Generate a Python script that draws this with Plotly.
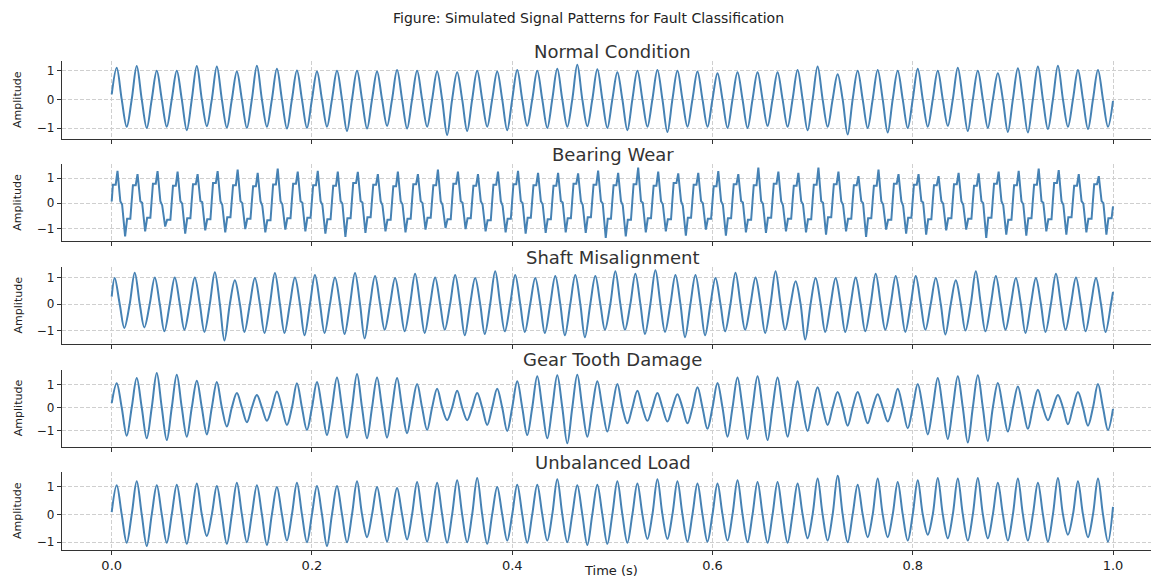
import plotly.graph_objects as go

# ---------------- data ----------------
period = 0.02          # one cycle of the 50 Hz signal, seconds
n_cycles = 50
time_ticks = [0.0, 0.2, 0.4, 0.6, 0.8, 1.0]
time_tick_labels = ["0.0", "0.2", "0.4", "0.6", "0.8", "1.0"]
amp_ticks = [-1, 0, 1]
amp_tick_labels = ["\u22121", "0", "1"]

panel_titles = ["Normal Condition", "Bearing Wear", "Shaft Misalignment",
                "Gear Tooth Damage", "Unbalanced Load"]

# Normal condition: per-cycle peak / trough
nc_start, nc_end = 0.17, -0.05
nc_peak = [1.10, 1.16, 0.99, 0.99, 1.16, 1.14, 0.97, 1.17, 1.06, 1.00,
           0.97, 0.99, 0.99, 0.97, 1.02, 0.99, 0.97, 0.94, 0.99, 0.97,
           1.02, 0.99, 1.06, 1.20, 1.05, 0.94, 0.99, 1.02, 0.99, 0.97,
           0.91, 0.94, 0.94, 0.94, 1.02, 1.14, 0.87, 0.99, 1.02, 0.99,
           1.06, 0.99, 1.10, 0.99, 0.91, 1.08, 1.14, 1.17, 1.02, 1.02]
nc_trough = [-0.95, -0.99, -0.95, -1.07, -0.93, -0.98, -0.99, -0.95, -1.01, -0.99,
             -0.95, -1.10, -1.01, -0.92, -1.01, -0.95, -1.24, -1.10, -0.95, -1.07,
             -0.92, -0.99, -0.95, -0.93, -0.99, -1.07, -0.95, -1.13, -0.95, -0.95,
             -0.99, -0.99, -0.92, -0.95, -1.07, -0.95, -1.22, -0.99, -1.15, -0.99,
             -0.95, -0.92, -1.10, -0.99, -1.13, -1.15, -1.03, -0.95, -1.03, -0.95]

# Bearing wear: plateau, spike, shoulder, trough, low plateau per cycle
bw_start, bw_end = 0.07, -0.13
bw_spike = [1.29, 1.16, 1.28, 1.26, 1.16, 1.28, 1.34, 1.21, 1.38, 1.26,
            1.29, 1.26, 1.25, 1.16, 1.26, 1.16, 1.34, 1.26, 1.16, 1.26,
            1.29, 1.21, 1.21, 1.19, 1.30, 1.21, 1.42, 1.26, 1.19, 1.21,
            1.28, 1.16, 1.42, 1.26, 1.21, 1.42, 1.26, 1.08, 1.34, 1.16,
            1.16, 1.08, 1.21, 1.19, 1.26, 1.29, 1.38, 1.32, 1.16, 1.08]
bw_trough = [-1.32, -1.12, -0.93, -1.21, -1.08, -1.16, -1.03, -1.16, -1.05, -1.12,
             -1.21, -1.34, -1.18, -1.12, -1.16, -1.05, -0.99, -1.03, -1.12, -1.16,
             -1.21, -1.18, -1.16, -1.18, -1.38, -1.32, -1.16, -1.12, -1.29, -1.05,
             -1.29, -1.16, -1.18, -1.12, -1.16, -1.25, -1.12, -1.34, -1.05, -1.21,
             -1.25, -1.08, -1.05, -1.38, -1.25, -1.29, -1.12, -1.25, -1.16, -1.25]
bw_plateau_hi = [0.74, 0.72, 0.78, 0.70, 0.76, 0.80, 0.72, 0.68, 0.75, 0.78,
                 0.72, 0.70, 0.80, 0.74, 0.68, 0.76, 0.72, 0.78, 0.70, 0.74,
                 0.76, 0.72, 0.70, 0.78, 0.74, 0.72, 0.76, 0.70, 0.80, 0.74,
                 0.68, 0.76, 0.72, 0.78, 0.70, 0.74, 0.76, 0.72, 0.70, 0.78,
                 0.74, 0.72, 0.76, 0.70, 0.78, 0.72, 0.74, 0.80, 0.70, 0.76]
bw_plateau_lo = [-0.62, -0.58, -0.66, -0.60, -0.64, -0.56, -0.62, -0.68, -0.60, -0.58,
                 -0.64, -0.60, -0.56, -0.66, -0.62, -0.58, -0.64, -0.60, -0.68, -0.62,
                 -0.58, -0.64, -0.60, -0.56, -0.62, -0.66, -0.60, -0.64, -0.58, -0.62,
                 -0.60, -0.66, -0.58, -0.62, -0.64, -0.56, -0.62, -0.60, -0.66, -0.58,
                 -0.64, -0.60, -0.62, -0.58, -0.66, -0.60, -0.64, -0.56, -0.62, -0.60]
bw_shoulder = [-0.05, 0.02, -0.08, -0.02, 0.04, -0.06, 0.00, -0.10, -0.04, 0.02,
               -0.06, -0.02, 0.03, -0.08, -0.04, 0.00, -0.06, 0.02, -0.05, -0.10,
               0.00, -0.04, 0.03, -0.06, -0.02, -0.08, 0.02, -0.04, -0.10, 0.00,
               -0.06, 0.03, -0.02, -0.08, -0.04, 0.02, -0.06, 0.00, -0.04, -0.10,
               0.03, -0.02, -0.06, 0.00, -0.08, -0.04, 0.02, -0.06, -0.02, 0.00]

# Shaft misalignment
sm_start, sm_end = 0.28, 0.46
sm_peak = [0.99, 1.19, 1.01, 1.01, 1.01, 1.21, 0.90, 0.99, 1.18, 1.01,
           1.10, 1.01, 1.18, 1.06, 0.99, 1.15, 1.01, 1.10, 0.99, 1.24,
           1.10, 0.99, 1.06, 1.10, 1.06, 1.24, 1.15, 1.28, 1.10, 1.10,
           0.99, 1.19, 1.01, 1.24, 0.86, 0.99, 0.99, 1.01, 1.15, 1.06,
           1.06, 0.99, 0.90, 1.24, 1.06, 0.99, 0.99, 1.15, 1.01, 0.99]
sm_trough = [-0.91, -0.89, -1.04, -0.98, -1.06, -1.39, -1.06, -1.10, -1.10, -1.19,
             -1.10, -1.14, -1.31, -0.98, -1.04, -1.10, -0.98, -1.19, -1.14, -1.04,
             -1.06, -1.10, -1.19, -1.26, -0.98, -0.98, -1.14, -1.06, -1.26, -1.19,
             -1.04, -0.98, -1.10, -0.98, -1.35, -1.06, -1.06, -1.04, -0.98, -1.06,
             -0.98, -1.16, -1.01, -1.04, -0.98, -1.10, -1.06, -0.98, -1.04, -1.06]

# Gear tooth damage (amplitude-modulated)
gt_start, gt_end = 0.19, -0.06
gt_peak = [1.06, 1.28, 1.50, 1.43, 1.17, 1.11, 0.63, 0.55, 0.70, 1.06,
           1.11, 1.31, 1.46, 1.31, 1.28, 1.02, 0.82, 0.73, 0.63, 0.82,
           1.14, 1.36, 1.40, 1.43, 1.14, 1.02, 0.73, 0.63, 0.58, 0.88,
           1.07, 1.31, 1.36, 1.31, 1.14, 0.88, 0.67, 0.67, 0.58, 0.82,
           1.02, 1.28, 1.36, 1.40, 1.07, 0.92, 0.77, 0.55, 0.67, 1.02]
gt_trough = [-1.23, -1.34, -1.42, -1.27, -1.17, -0.83, -0.64, -0.58, -0.76, -0.98,
             -1.20, -1.31, -1.34, -1.31, -1.12, -0.98, -0.55, -0.55, -0.76, -1.02,
             -1.20, -1.34, -1.56, -1.27, -1.05, -0.69, -0.58, -0.61, -0.69, -0.93,
             -1.27, -1.37, -1.42, -1.27, -1.02, -0.76, -0.79, -0.69, -0.61, -0.90,
             -1.17, -1.37, -1.52, -1.46, -1.05, -0.93, -0.55, -0.73, -0.79, -0.98]

# Unbalanced load
ul_start, ul_end = 0.08, 0.27
ul_peak = [1.05, 1.19, 1.05, 1.07, 1.11, 1.02, 1.14, 1.05, 0.99, 1.14,
           1.02, 1.02, 1.19, 0.99, 0.95, 1.17, 1.14, 1.23, 1.31, 0.99,
           1.07, 1.07, 1.27, 1.05, 1.07, 1.19, 1.11, 1.27, 1.19, 1.11,
           1.11, 1.23, 1.17, 1.17, 1.11, 1.29, 1.39, 1.07, 1.29, 1.17,
           1.23, 1.31, 1.29, 1.31, 1.14, 1.29, 1.14, 1.31, 1.19, 1.29]
ul_trough = [-1.02, -1.14, -1.02, -1.06, -0.78, -1.06, -1.00, -1.10, -0.94, -1.00,
             -1.14, -1.00, -0.82, -0.98, -0.90, -0.98, -1.02, -1.00, -1.06, -0.94,
             -1.02, -0.94, -1.00, -1.10, -1.06, -1.02, -0.88, -0.88, -0.98, -0.98,
             -0.94, -1.00, -1.02, -1.02, -0.86, -0.94, -1.00, -0.82, -0.82, -0.94,
             -0.73, -0.86, -0.94, -0.86, -0.94, -0.94, -0.98, -0.73, -0.82, -0.98]

# phase (fraction of a cycle) at which each per-cycle value was read
sine_phase = [0.0, 0.25, 0.5, 0.75]
shaft_phase = [0.15, 0.40, 0.63, 0.90]
bearing_phase = [0.0, 0.06, 0.20, 0.29, 0.43, 0.52, 0.67, 0.77, 0.93]


def build(start, end, phases, columns):
    t, y = [0.0], [start]
    for k in range(n_cycles):
        for ph, col in zip(phases, columns):
            if k == 0 and ph == 0.0:
                continue
            t.append((k + ph) * period)
            y.append(col[k] if isinstance(col, list) else col)
    t.append(n_cycles * period)
    y.append(end)
    return t, y


signals = [
    build(nc_start, nc_end, sine_phase, [0.0, nc_peak, 0.0, nc_trough]) + ("spline",),
    build(bw_start, bw_end, bearing_phase,
          [0.05, bw_plateau_hi, bw_plateau_hi, bw_spike, 0.08, bw_shoulder,
           bw_trough, bw_plateau_lo, bw_plateau_lo]) + ("linear",),
    build(sm_start, sm_end, shaft_phase, [sm_peak, 0.0, sm_trough, 0.0]) + ("spline",),
    build(gt_start, gt_end, sine_phase, [0.0, gt_peak, 0.0, gt_trough]) + ("spline",),
    build(ul_start, ul_end, sine_phase, [0.0, ul_peak, 0.0, ul_trough]) + ("spline",),
]

# ---------------- figure ----------------
# The page body has an 8px margin, so the figure starts at page (8, 8).
PAGE_W, PAGE_H, OFF = 1159, 578, 8
W, H = PAGE_W - OFF, PAGE_H - OFF
PLOT_L = 62                       # page x of the left spine
ML = PLOT_L - OFF
PW = PAGE_W - PLOT_L


def px_x(p):
    return (p - PLOT_L) / PW


def px_y(p):
    return 1 - (p - OFF) / H


panel_top0, panel_pitch, panel_h = 61.3, 102.75, 77.3
x0_px, px_per_s = 111.7, 1001.3
x_range = [(PLOT_L - x0_px) / px_per_s, (PAGE_W - x0_px) / px_per_s]

fig = go.Figure()
layout = dict(
    width=W, height=H,
    margin=dict(l=ML, r=0, t=0, b=0, autoexpand=False),
    paper_bgcolor="white", plot_bgcolor="white",
    showlegend=False,
    font=dict(family="DejaVu Sans", color="#222"),
)

annotations = []
axis_col = "#333333"
grid_col = "#cfcfcf"

for i, (t, y, shape) in enumerate(signals):
    n = "" if i == 0 else str(i + 1)
    fig.add_trace(go.Scatter(
        x=t, y=y, mode="lines",
        line=dict(color="#4682b4", width=2, shape=shape, smoothing=1.0),
        xaxis="x" + n, yaxis="y" + n, hoverinfo="skip",
    ))
    lo, hi = min(y), max(y)
    span = hi - lo
    top = panel_top0 + i * panel_pitch
    bot = top + panel_h
    layout["xaxis" + n] = dict(
        domain=[0, 1], range=x_range, anchor="y" + n,
        tickmode="array", tickvals=time_ticks, ticktext=time_tick_labels,
        showticklabels=(i == 4), ticks="outside", ticklen=4, tickwidth=1,
        tickcolor=axis_col, showline=True, linecolor=axis_col, linewidth=1.2,
        showgrid=True, gridcolor=grid_col, griddash="4px,2px", gridwidth=0.8,
        zeroline=False, tickfont=dict(size=13, color="#222"), automargin=False,
    )
    layout["yaxis" + n] = dict(
        domain=[px_y(bot), px_y(top)],
        range=[lo - 0.05 * span, hi + 0.05 * span], anchor="x" + n,
        tickmode="array", tickvals=amp_ticks, ticktext=amp_tick_labels,
        ticks="outside", ticklen=4, tickwidth=1, tickcolor=axis_col,
        showline=True, linecolor=axis_col, linewidth=1.2,
        showgrid=True, gridcolor=grid_col, griddash="4px,2px", gridwidth=0.8,
        zeroline=False, tickfont=dict(size=12, color="#222"), automargin=False,
    )
    annotations.append(dict(
        text=panel_titles[i], xref="paper", yref="paper",
        x=px_x(612.5), y=px_y(51.5 + i * panel_pitch),
        xanchor="center", yanchor="middle", showarrow=False,
        font=dict(size=18, color="#333"),
    ))
    annotations.append(dict(
        text="Amplitude", xref="paper", yref="paper",
        x=px_x(18), y=px_y((top + bot) / 2), textangle=-90,
        xanchor="center", yanchor="middle", showarrow=False,
        font=dict(size=11, color="#222"),
    ))

annotations.append(dict(
    text="Figure: Simulated Signal Patterns for Fault Classification",
    xref="paper", yref="paper", x=px_x(588), y=1.0,
    xanchor="center", yanchor="top", showarrow=False,
    font=dict(size=14, color="#222"),
))
annotations.append(dict(
    text="Time (s)", xref="paper", yref="paper", x=px_x(611), y=px_y(570),
    xanchor="center", yanchor="middle", showarrow=False,
    font=dict(size=13, color="#222"),
))
layout["annotations"] = annotations
fig.update_layout(**layout)

fig.write_html("out.html")
